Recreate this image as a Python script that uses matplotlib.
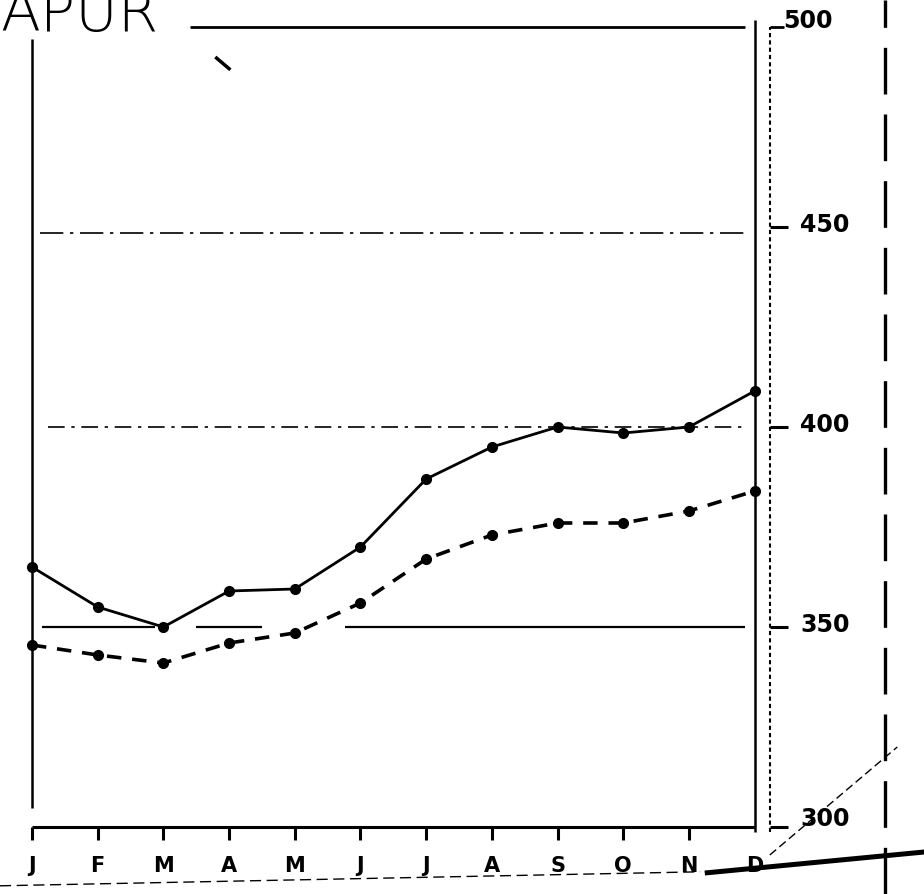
import numpy as np
import matplotlib
matplotlib.use("Agg")
import matplotlib.pyplot as plt

# Monthly values (right-hand scale 300-500).
months = ["J", "F", "M", "A", "M", "J", "J", "A", "S", "O", "N", "D"]
upper = [365, 355, 350, 359, 359.5, 370, 387, 395, 400, 398.5, 400, 409]
lower = [345.5, 343, 341, 346, 348.5, 356, 367, 373, 376, 376, 379, 384]
yticks = [300, 350, 400, 450, 500]
title = "APUR"

x = np.arange(len(months))

fig = plt.figure(figsize=(9.24, 8.94), dpi=100)
ax = fig.add_axes([0, 0, 1, 1])
# one month = 65.7 px, one unit = 4 px; J sits at px 32, 400 at px 427
ax.set_xlim(-0.487, 13.577)
ax.set_ylim(283.25, 506.75)
ax.axis('off')

k = dict(color='k', solid_capstyle='butt')

# frame: left upright, bottom axis, top rule
ax.plot([0, 0], [304.8, 497], lw=1.8, **k)
ax.plot([0, 11], [300, 300], lw=2.2, **k)
ax.plot([2.4, 10.85], [500, 500], lw=2.0, **k)
for i in x[:-1]:
    ax.plot([i, i], [300, 296.8], lw=2.2, **k)

# double upright on the right and the far dashed one
ax.plot([11, 11], [298.8, 501.7], lw=1.8, **k)
ax.plot([11.23, 11.23], [298.8, 500], lw=1.5, color='k', ls=(0, (2, 1.5)))
ax.plot([11.23, 11.45], [500, 500], lw=2.0, **k)
ax.plot([12.98, 12.98], [283.25, 506.75], lw=2.4, color='k',
        ls=(0, (14, 6)))

# right-hand scale
for v in yticks[:-1]:
    ax.plot([11.23, 11.5], [v, v], lw=2.2, **k)
    ax.text(11.69, v + (2 if v == 300 else 0.5), str(v), fontsize=17,
            fontweight='bold', va='center', ha='left')
ax.text(11.44, 501.5, str(yticks[-1]), fontsize=17, fontweight='bold',
        va='center', ha='left')

# reference lines at 450 / 400 / 350
ax.plot([0.12, 10.85], [448.5, 448.5], lw=1.2, color='k', ls=(0, (14, 4, 2, 4)))
ax.plot([0.25, 10.85], [400, 400], lw=1.2, color='k', ls=(0, (10, 4, 2, 4)))
ax.plot([0.15, 1.87], [350, 350], lw=1.6, **k)
ax.plot([2.5, 3.5], [350, 350], lw=1.6, **k)
ax.plot([4.76, 10.85], [350, 350], lw=1.6, **k)

# the two series
ax.plot(x, upper, color='k', lw=2.0, marker='o', ms=7, zorder=5)
ax.plot(x, lower, color='k', lw=2.6, ls=(0, (4, 3)), marker='o', ms=7,
        zorder=5)

# month letters
for i, m in zip(x, months):
    ax.text(i, 290.3, m, fontsize=15, fontweight='bold', ha='center',
            va='center')

ax.text(-0.487, 499, title, fontsize=42, ha='left', va='baseline',
        family='DejaVu Sans', fontweight='light')

# stray pen marks on the scan
ax.plot([2.79, 3.02], [492.5, 489.3], lw=2.5, **k)
ax.plot([10.24, 13.58], [288.5, 293.75], lw=3.6, **k)
ax.plot([11.23, 13.17], [293, 320], lw=1.0, color='k', ls=(0, (6, 3)))
ax.plot([-0.487, 10.17], [285.3, 288.8], lw=1.0, color='k', ls=(0, (8, 4)))

fig.savefig("out.png", dpi=100)
